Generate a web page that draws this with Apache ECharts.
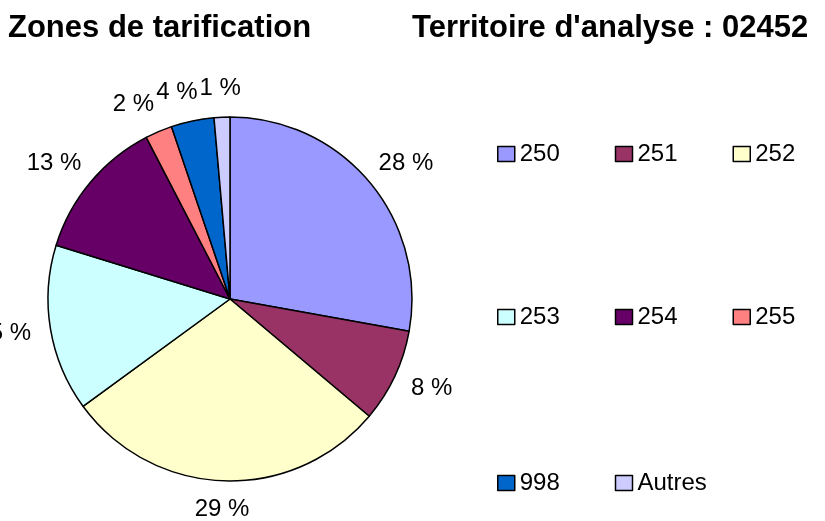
<!DOCTYPE html>
<html>
<head>
<meta charset="utf-8">
<script src="https://cdn.jsdelivr.net/npm/echarts@6/dist/echarts.min.js"></script>
<style>
  html, body { margin: 0; padding: 0; background: #fff; }
  #chart { width: 825px; height: 521px; }
</style>
</head>
<body>
<div id="chart"></div>
<script>
// Data
const categories = ['250', '251', '252', '253', '254', '255', '998', 'Autres'];
const shares = [27.8, 8.3, 28.8, 14.8, 12.6, 2.4, 3.8, 1.4];
const colors = ['#9999FF', '#993366', '#FFFFCC', '#CCFFFF', '#660066', '#FF8080', '#0066CC', '#CCCCFF'];
const legendRows = [['250', '251', '252'], ['253', '254', '255'], ['998', 'Autres']];
const titleLeft = 'Zones de tarification';
const titleRight = "Territoire d'analyse : 02452";

const font = "'Liberation Sans', Arial, sans-serif";
const chart = echarts.init(document.getElementById('chart'), null, { renderer: 'canvas' });

const pieCenter = [230, 299];
const pieRadius = 182;

const rowTops = [142, 305, 471];
const legends = legendRows.map((row, i) => ({
  data: row,
  orient: 'horizontal',
  left: 497,
  top: rowTops[i],
  width: 360,
  padding: 0,
  itemWidth: 17,
  itemHeight: 15,
  itemGap: 5,
  icon: 'rect',
  selectedMode: false,
  itemStyle: { borderColor: '#000', borderWidth: 1.5 },
  textStyle: { fontFamily: font, fontSize: 24, color: '#000', width: 90, lineHeight: 24 }
}));

// label boxes placed a small gap outside the rim, along each slice's mid ray
const placed = {};
const shiftX = {};
function placeLabel(params) {
  const r = params.labelRect;
  const ax = params.align === 'right' ? r.x + r.width : (params.align === 'left' ? r.x : r.x + r.width / 2);
  const ay = r.y + r.height / 2;
  let dx = ax - pieCenter[0], dy = ay - pieCenter[1];
  const len = Math.sqrt(dx * dx + dy * dy) || 1;
  dx /= len; dy /= len;
  const g = 20;
  const hw = r.width / 2;
  const x = ax + dx * (g + hw);
  const y = ay + dy * (g + 9);
  placed[params.dataIndex] = { x: x, y: y, hw: hw, hh: 9, dx: dx };
  return { x: x + (shiftX[params.dataIndex] || 0), y: y, align: 'center', verticalAlign: 'middle' };
}

const option = {
  animation: false,
  backgroundColor: '#fff',
  color: colors,
  title: [
    { text: titleLeft, left: 8, top: 13, padding: 0,
      textStyle: { fontFamily: font, fontSize: 31, fontWeight: 'bold', color: '#000' } },
    { text: titleRight, left: 412, top: 13, padding: 0,
      textStyle: { fontFamily: font, fontSize: 31, fontWeight: 'bold', color: '#000' } }
  ],
  legend: legends,
  series: [{
    type: 'pie',
    center: pieCenter,
    radius: pieRadius,
    startAngle: 90,
    clockwise: true,
    avoidLabelOverlap: false,
    itemStyle: { borderColor: '#000', borderWidth: 1.5 },
    emphasis: { disabled: true },
    label: {
      show: true,
      position: 'outside',
      fontFamily: font,
      fontSize: 24,
      color: '#000',
      distanceToLabelLine: 0,
      formatter: p => Math.round(p.percent) + ' %'
    },
    labelLine: { show: false, length: 0, length2: 0 },
    labelLayout: placeLabel,
    data: categories.map((c, i) => ({ name: c, value: shares[i] }))
  }]
};
chart.setOption(option);

// resolve overlaps on the left half: walk from the top (last slice) counter-clockwise,
// pushing each overlapping label to the left of the one already kept
const order = Object.keys(placed).map(Number).sort((a, b) => b - a);
let prev = null;
order.forEach(i => {
  const p = placed[i];
  if (p.dx >= 0) return;
  if (prev) {
    const vOverlap = Math.abs(p.y - prev.y) < (p.hh + prev.hh);
    const right = p.x + p.hw;
    const limit = prev.x + (shiftX[prev.i] || 0) - prev.hw - 2;
    if (vOverlap && right > limit) shiftX[i] = limit - right;
  }
  prev = { x: p.x, y: p.y, hw: p.hw, hh: p.hh, i: i };
});
option.series[0].labelLayout = function (params) { return placeLabel(params); };
chart.setOption(option, true);
</script>
</body>
</html>
